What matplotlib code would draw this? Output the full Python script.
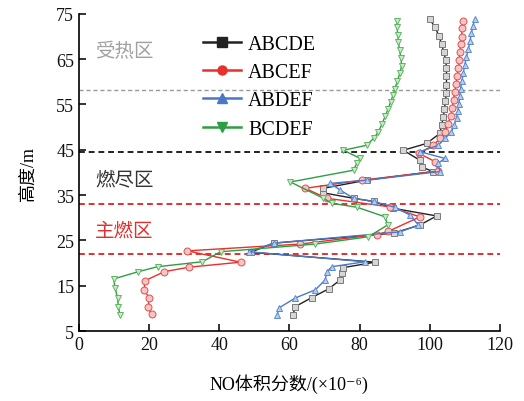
import matplotlib
matplotlib.use("Agg")
import matplotlib.pyplot as plt
from matplotlib.lines import Line2D

plt.rcParams['font.family'] = ['Liberation Serif', 'Noto Sans CJK SC', 'DejaVu Serif']

# ABCDE
y_abcde = [8.6, 10.4, 12.4, 14.3, 16.3, 17.8, 19.0, 20.2, 22.4, 24.4, 26.6, 28.4, 30.4,
           32.1, 33.6, 34.3, 35.5, 36.5, 38.3, 40.2, 41.2, 42.7, 44.9, 46.4, 48.6, 50.4,
           52.2, 54.0, 55.8, 57.6, 59.4, 61.2, 63.0, 64.8, 66.6, 68.4, 70.2, 72.0, 73.8]
x_abcde = [61.0, 61.7, 66.4, 71.2, 74.5, 75.0, 75.4, 84.4, 49.0, 55.5, 89.7, 97.2, 102.0,
           89.6, 84.0, 78.3, 69.7, 69.7, 82.0, 101.0, 97.7, 97.2, 92.5, 99.1, 102.9, 103.4,
           103.9, 104.2, 104.5, 104.8, 104.8, 104.8, 104.8, 104.6, 104.0, 103.4, 102.6, 101.6, 100.0]

# ABCEF
y_abcef = [8.7, 10.2, 12.3, 14.1, 16.1, 18.1, 19.1, 20.2, 22.7, 24.2, 26.3, 27.0, 30.2,
           32.4, 34.3, 36.5, 38.3, 40.3, 42.4, 44.2, 46.0, 47.5, 49.0, 50.8, 52.5, 54.3,
           56.0, 57.8, 59.5, 61.3, 63.0, 64.8, 66.5, 68.3, 70.0, 71.8, 73.5]
x_abcef = [20.7, 19.7, 20.0, 18.6, 18.8, 24.3, 31.4, 46.1, 30.9, 63.1, 84.9, 88.2, 97.2,
           88.7, 70.7, 64.5, 80.7, 102.5, 101.5, 97.0, 101.0, 103.0, 104.5, 105.3, 106.0, 106.5,
           106.8, 107.2, 107.5, 107.9, 108.2, 108.4, 108.6, 108.9, 109.1, 109.3, 109.4]

# ABDEF
y_abdef = [8.5, 10.1, 12.3, 14.1, 16.3, 18.1, 19.2, 20.3, 22.5, 24.4, 26.9, 28.4, 30.6,
           32.3, 33.6, 34.3, 36.1, 37.6, 38.3, 40.2, 42.0, 43.1, 44.6, 46.0, 47.5, 48.9,
           50.5, 52.0, 53.5, 55.0, 56.8, 58.5, 60.2, 62.0, 63.7, 65.5, 67.2, 69.0, 70.7,
           72.3, 73.8]
x_abdef = [56.5, 57.0, 61.7, 67.4, 70.2, 70.7, 72.1, 81.6, 48.4, 55.5, 91.6, 96.8, 94.4,
           90.1, 84.0, 78.3, 74.5, 71.7, 82.1, 102.9, 102.4, 104.3, 97.2, 102.5, 104.3, 106.2,
           107.0, 107.7, 108.0, 108.3, 108.6, 108.8, 109.2, 109.6, 110.0, 110.5, 111.0, 111.5, 111.9,
           112.3, 112.9]

# BCDEF
y_bcdef = [8.5, 10.4, 12.3, 14.5, 16.5, 18.1, 19.2, 20.3, 22.5, 24.2, 25.8, 28.4, 30.2,
           32.3, 33.2, 34.3, 37.9, 40.5, 42.0, 43.1, 44.9, 46.0, 47.5, 49.0, 50.7, 52.4,
           54.1, 55.6, 57.0, 58.5, 60.2, 61.9, 63.6, 65.3, 67.0, 68.8, 70.4, 72.0, 73.5]
x_bcdef = [11.7, 11.2, 11.0, 10.3, 9.9, 16.9, 22.4, 35.2, 40.4, 67.4, 82.5, 88.0, 87.3,
           79.4, 72.1, 69.7, 60.3, 78.3, 79.2, 80.2, 75.4, 82.0, 84.0, 85.4, 86.4, 87.3,
           88.2, 88.9, 89.5, 90.1, 90.8, 91.5, 92.0, 91.8, 91.4, 91.1, 90.9, 90.7, 90.6]

zone_lines = [58.3, 44.6, 33.0, 22.0]
zone_line_colors = ['#9a9a9a', '#222222', '#e03030', '#e03030']
zone_names = ['受热区', '燃尽区', '主燃区']
zone_name_y = [66.9, 38.7, 27.2]
zone_name_colors = ['#a0a0a0', '#333333', '#e03030']

series = [
    ('ABCDE', x_abcde, y_abcde, '#222222', 's', '#d6d6d6', '#7a7a7a'),
    ('ABCEF', x_abcef, y_abcef, '#e8312a', 'o', '#f6c4c4', '#e05050'),
    ('ABDEF', x_abdef, y_abdef, '#4a78c4', '^', '#b6cdee', '#5b8ad0'),
    ('BCDEF', x_bcdef, y_bcdef, '#2e9e44', 'v', '#cdeac6', '#5fb566'),
]

fig = plt.figure(figsize=(5.24, 4.02), dpi=100)
ax = fig.add_axes([0.1508, 0.174, 0.803, 0.789])

for yv, c in zip(zone_lines, zone_line_colors):
    ax.axhline(yv, color=c, linestyle=(0, (3, 2)), linewidth=1.4 if c != '#9a9a9a' else 1.0, zorder=1)

handles = []
for name, xs, ys, lc, mk, mf, me in series:
    ax.plot(xs, ys, color=lc, linewidth=1.0, marker=mk, markersize=5,
            markerfacecolor=mf, markeredgecolor=me, markeredgewidth=0.7, zorder=3)
    handles.append(Line2D([], [], color=lc, linewidth=1.8, marker=mk, markersize=6.5,
                          markerfacecolor=lc, markeredgecolor=lc, label=name))

for t, yv, c in zip(zone_names, zone_name_y, zone_name_colors):
    ax.text(4.5, yv, t, color=c, fontsize=14, va='center', ha='left',
            family=['Noto Sans CJK SC', 'DejaVu Sans'])

ax.legend(handles=handles, loc='upper left', bbox_to_anchor=(0.27, 0.965), frameon=False,
          fontsize=14.5, handlelength=1.9, labelspacing=0.45, handletextpad=0.35, borderpad=0)

ax.set_xlim(0, 120)
ax.set_ylim(5, 75)
ax.set_xticks([0, 20, 40, 60, 80, 100, 120])
ax.set_yticks([5, 15, 25, 35, 45, 55, 65, 75])
ax.spines['top'].set_visible(False)
ax.spines['right'].set_visible(False)
for s in ['left', 'bottom']:
    ax.spines[s].set_linewidth(1.2)
ax.tick_params(direction='in', length=5, width=1.2, labelsize=13, colors='#111111')
ax.set_xlabel('NO体积分数/(×10⁻⁶)', fontsize=13, labelpad=15)
ax.set_ylabel('高度/m', fontsize=13, labelpad=14)

fig.savefig('out.png', dpi=100)
